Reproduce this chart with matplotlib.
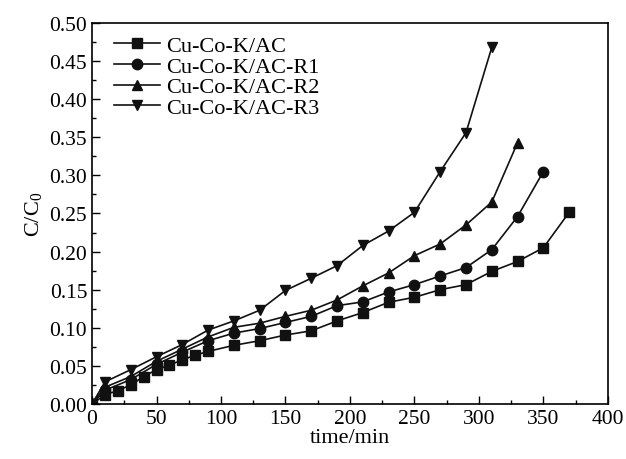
import matplotlib
matplotlib.use("Agg")
import matplotlib.pyplot as plt
from matplotlib.ticker import MultipleLocator, FormatStrFormatter

plt.rcParams['font.family'] = ['Liberation Serif', 'DejaVu Serif']
plt.rcParams['mathtext.fontset'] = 'custom'
plt.rcParams['mathtext.rm'] = 'Liberation Serif'

# Breakthrough data, C/C0 versus time (min)
t_ac = [0, 10, 20, 30, 40, 50, 60, 70, 80, 90, 110, 130, 150, 170, 190, 210,
        230, 250, 270, 290, 310, 330, 350, 370]
c_ac = [0.0, 0.012, 0.0175, 0.025, 0.036, 0.045, 0.051, 0.058, 0.064, 0.069,
        0.077, 0.083, 0.0905, 0.096, 0.109, 0.120, 0.1335, 0.140, 0.150,
        0.1566, 0.174, 0.187, 0.205, 0.2515]

t_r1 = [0, 10, 30, 50, 70, 90, 110, 130, 150, 170, 190, 210, 230, 250, 270,
        290, 310, 330, 350]
c_r1 = [0.0, 0.018, 0.032, 0.052, 0.068, 0.083, 0.093, 0.099, 0.107, 0.115,
        0.129, 0.134, 0.147, 0.1566, 0.168, 0.179, 0.2025, 0.246, 0.305]

t_r2 = [0, 10, 30, 50, 70, 90, 110, 130, 150, 170, 190, 210, 230, 250, 270,
        290, 310, 330]
c_r2 = [0.0, 0.022, 0.036, 0.056, 0.072, 0.088, 0.1006, 0.106, 0.115, 0.123,
        0.1365, 0.155, 0.172, 0.1946, 0.21, 0.235, 0.265, 0.343]

t_r3 = [0, 10, 30, 50, 70, 90, 110, 130, 150, 170, 190, 210, 230, 250, 270,
        290, 310]
c_r3 = [0.0, 0.029, 0.045, 0.062, 0.078, 0.097, 0.109, 0.123, 0.149, 0.165,
        0.1815, 0.208, 0.227, 0.2515, 0.305, 0.356, 0.468]

labels = ['Cu-Co-K/AC', 'Cu-Co-K/AC-R1', 'Cu-Co-K/AC-R2', 'Cu-Co-K/AC-R3']
markers = ['s', 'o', '^', 'v']

fig = plt.figure(figsize=(6.26, 4.6), dpi=100)
ax = fig.add_axes([0.147, 0.1196, 0.824, 0.8283])

for t, c, lab, m in zip([t_ac, t_r1, t_r2, t_r3], [c_ac, c_r1, c_r2, c_r3],
                        labels, markers):
    ax.plot(t, c, color='#111111', marker=m, markersize=7.5, linewidth=1.2,
            label=lab)

ax.set_xlim(0, 400)
ax.set_ylim(0, 0.5)
ax.xaxis.set_major_locator(MultipleLocator(50))
ax.xaxis.set_minor_locator(MultipleLocator(25))
ax.yaxis.set_major_locator(MultipleLocator(0.05))
ax.yaxis.set_minor_locator(MultipleLocator(0.025))
ax.yaxis.set_major_formatter(FormatStrFormatter('%.2f'))
ax.tick_params(which='both', direction='in', top=False, right=False,
               labelsize=15.5)
ax.tick_params(which='major', length=6, width=1)
ax.tick_params(which='minor', length=3, width=1)
for s in ax.spines.values():
    s.set_linewidth(1.2)

ax.set_xlabel('time/min', fontsize=16, labelpad=0)
ax.set_ylabel(r'C/C$_\mathregular{0}$', fontsize=16, labelpad=3)

ax.legend(loc='upper left', frameon=False, fontsize=16, handlelength=2.1,
          handletextpad=0.25, labelspacing=0.0, borderaxespad=0.0,
          bbox_to_anchor=(0.025, 0.99))

fig.savefig('out.png', dpi=100)
